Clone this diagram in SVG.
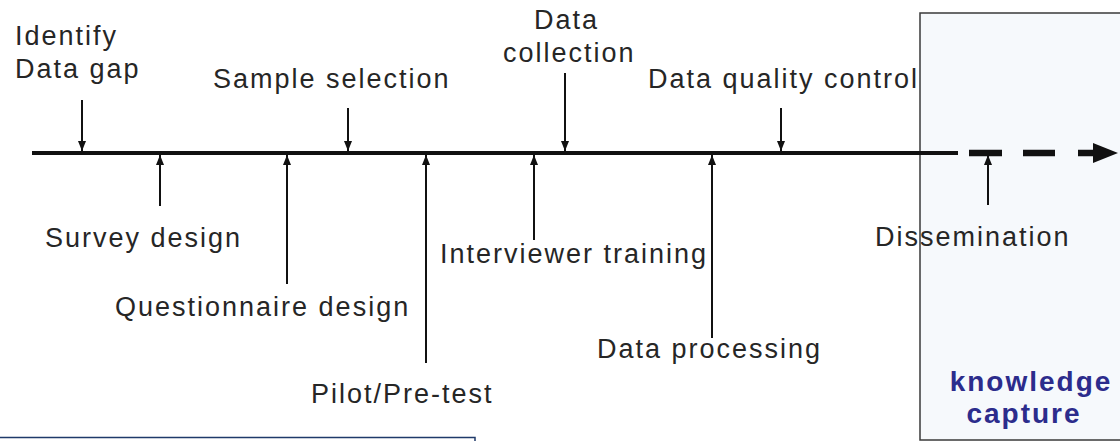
<svg xmlns="http://www.w3.org/2000/svg" width="1120" height="441" viewBox="0 0 1120 441">
  <style>
    .lbl { font-family: "Liberation Sans", Arial, sans-serif; font-size: 27px; letter-spacing: 2px; fill: #262626; }
    .kc { font-family: "Liberation Sans", Arial, sans-serif; font-size: 28px; font-weight: bold; fill: #2c2c8c; text-anchor: middle; letter-spacing: 2px; }
    .tick { stroke: #111; stroke-width: 2; fill: none; marker-end: url(#head); }
  </style>
  <defs>
    <marker id="head" markerUnits="userSpaceOnUse" markerWidth="10" markerHeight="10" viewBox="0 0 10 10" refX="10" refY="5" orient="auto">
      <path d="M0,1 L10,5 L0,9 Z" fill="#111"/>
    </marker>
  </defs>

  <rect width="1120" height="441" fill="#ffffff"/>

  <!-- knowledge capture panel -->
  <g id="knowledge-capture">
    <rect x="920" y="13" width="210" height="427" fill="#f6f9fc" stroke="#3a3a3a" stroke-width="1.5"/>
    <text class="kc" x="1031" y="391">knowledge</text>
    <text class="kc" x="1024" y="423">capture</text>
  </g>

  <!-- partly visible panel at the lower left edge -->
  <g id="lower-panel">
    <rect x="-2" y="437.5" width="477" height="20" fill="#ffffff" stroke="#1f3a6a" stroke-width="1.5"/>
  </g>

  <!-- timeline and step pointers -->
  <g id="connectors">
    <line x1="32" y1="153" x2="958" y2="153" stroke="#111" stroke-width="4"/>
    <path d="M969,153 H1002 M1023,153 H1055 M1078,153 H1095" stroke="#111" stroke-width="6.5" fill="none"/>
    <polygon points="1093,143 1118,153 1093,163" fill="#111"/>

    <!-- pointers from above -->
    <line class="tick" x1="82" y1="100" x2="82" y2="151"/>
    <line class="tick" x1="348" y1="108" x2="348" y2="151"/>
    <line class="tick" x1="565" y1="73" x2="565" y2="151"/>
    <line class="tick" x1="781" y1="108" x2="781" y2="151"/>

    <!-- pointers from below -->
    <line class="tick" x1="160" y1="206" x2="160" y2="155"/>
    <line class="tick" x1="287" y1="284" x2="287" y2="155"/>
    <line class="tick" x1="426" y1="363" x2="426" y2="155"/>
    <line class="tick" x1="534" y1="240" x2="534" y2="155"/>
    <line class="tick" x1="712" y1="338" x2="712" y2="155"/>
    <line class="tick" x1="988" y1="205" x2="988" y2="155"/>
  </g>

  <g id="identify-data-gap">
    <text class="lbl" x="15" y="45">Identify</text>
    <text class="lbl" x="15" y="78">Data gap</text>
  </g>
  <g id="sample-selection">
    <text class="lbl" x="213" y="88">Sample selection</text>
  </g>
  <g id="data-collection">
    <text class="lbl" x="534" y="29">Data</text>
    <text class="lbl" x="503" y="62">collection</text>
  </g>
  <g id="data-quality-control">
    <text class="lbl" x="648" y="88">Data quality control</text>
  </g>
  <g id="survey-design">
    <text class="lbl" x="45" y="247">Survey design</text>
  </g>
  <g id="questionnaire-design">
    <text class="lbl" x="115" y="316">Questionnaire design</text>
  </g>
  <g id="pilot-pre-test">
    <text class="lbl" x="311" y="403">Pilot/Pre-test</text>
  </g>
  <g id="interviewer-training">
    <text class="lbl" x="440" y="263">Interviewer training</text>
  </g>
  <g id="data-processing">
    <text class="lbl" x="597" y="358">Data processing</text>
  </g>
  <g id="dissemination">
    <text class="lbl" x="875" y="246">Dissemination</text>
  </g>
</svg>
